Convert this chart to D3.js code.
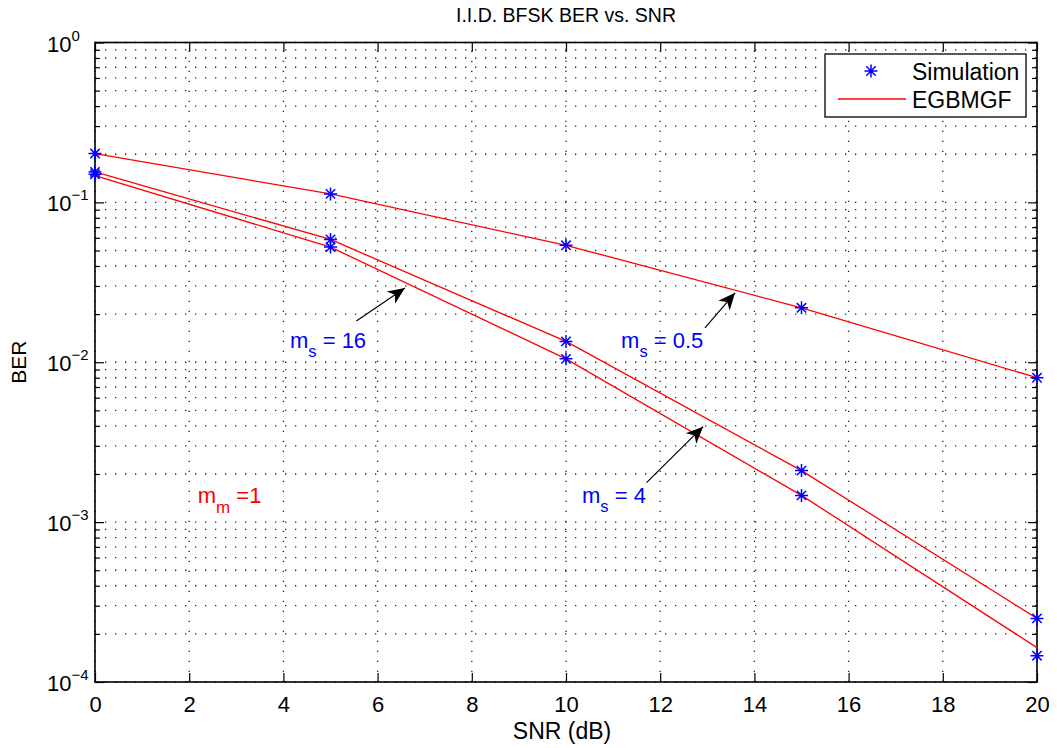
<!DOCTYPE html>
<html>
<head>
<meta charset="utf-8">
<script src="https://cdn.jsdelivr.net/npm/d3@7"></script>
<style>
  html, body { margin: 0; padding: 0; background: #fff; }
  svg { display: block; font-family: "Liberation Sans", Arial, sans-serif; }
</style>
</head>
<body>
<svg id="chart" width="1057" height="748"></svg>
<script>
// SNR points (dB)
const snr = [0, 5, 10, 15, 20];

// Simulated BER for each shadowing parameter m_s (m_m = 1)
const simMs05 = [0.202, 0.113, 0.0539, 0.0219, 0.0080];
const simMs4  = [0.155, 0.0586, 0.0135, 0.00210, 0.000250];
const simMs16 = [0.150, 0.0525, 0.0105, 0.00147, 0.000146];

// Analytical BER (EGBMGF)
const theoryMs05 = [0.202, 0.113, 0.0539, 0.0219, 0.0080];
const theoryMs4  = [0.155, 0.0586, 0.0135, 0.00210, 0.000250];
const theoryMs16 = [0.147, 0.0525, 0.0105, 0.00147, 0.000164];

const xTicks = [0, 2, 4, 6, 8, 10, 12, 14, 16, 18, 20];
const yDecades = [-4, -3, -2, -1, 0];

// Callout labels: text anchor and arrow (tail -> head) in data units
const calloutLabels = ["16", "0.5", "4"];
const calloutText = [[4.14, 0.01233], [11.17, 0.01233], [10.34, 0.001324]];
const calloutTail = [[5.55, 0.0181], [12.95, 0.01643], [11.71, 0.001766]];
const calloutHead = [[6.58, 0.0291], [13.59, 0.02718], [12.91, 0.003953]];

const svg = d3.select("#chart");
const mLeft = 95, mRight = 1037, mTop = 42.5, mBottom = 682;

const x = d3.scaleLinear().domain([0, 20]).range([mLeft, mRight]);
const y = d3.scaleLog().domain([1e-4, 1]).range([mBottom, mTop]);

const FS = 22;

// ---- grid ----
const grid = svg.append("g").attr("stroke", "#222").attr("stroke-width", 1.3)
  .attr("stroke-dasharray", "1.3,8.7").attr("fill", "none");
const yGridVals = [];
yDecades.forEach(d => {
  if (d < 0) for (let k = 1; k <= 9; k++) yGridVals.push(k * Math.pow(10, d));
});
yGridVals.push(1);
yGridVals.forEach(v => {
  grid.append("line").attr("x1", mLeft).attr("x2", mRight)
    .attr("y1", y(v)).attr("y2", y(v));
});
xTicks.forEach(v => {
  grid.append("line").attr("x1", x(v)).attr("x2", x(v))
    .attr("y1", mBottom).attr("y2", mTop);
});

// ---- axes ----
const axisG = svg.append("g");
const axBottom = d3.axisBottom(x).tickValues(xTicks).tickSize(-9).tickPadding(14)
  .tickFormat(d3.format("d"));
const axTop = d3.axisTop(x).tickValues(xTicks).tickSize(-9).tickFormat("");
const axLeft = d3.axisLeft(y).tickValues(yDecades.map(d => Math.pow(10, d)))
  .tickSize(-9).tickFormat("");
const axRight = d3.axisRight(y).tickValues(yDecades.map(d => Math.pow(10, d)))
  .tickSize(-9).tickFormat("");

const gB = axisG.append("g").attr("transform", `translate(0,${mBottom})`).call(axBottom);
const gT = axisG.append("g").attr("transform", `translate(0,${mTop})`).call(axTop);
const gL = axisG.append("g").attr("transform", `translate(${mLeft},0)`).call(axLeft);
const gR = axisG.append("g").attr("transform", `translate(${mRight},0)`).call(axRight);
[gB, gT, gL, gR].forEach(g => {
  g.select(".domain").remove();
  g.selectAll("line").attr("stroke", "#000").attr("stroke-width", 1.2);
});
gB.selectAll("text").attr("font-size", FS).attr("fill", "#000")
  .attr("font-family", "Liberation Sans, Arial, sans-serif");

// minor y ticks
const minorVals = yGridVals.filter(v => Math.abs(Math.log10(v) - Math.round(Math.log10(v))) > 1e-9);
const gMinorL = axisG.append("g").attr("transform", `translate(${mLeft},0)`)
  .call(d3.axisLeft(y).tickValues(minorVals).tickSize(-5).tickFormat(""));
const gMinorR = axisG.append("g").attr("transform", `translate(${mRight},0)`)
  .call(d3.axisRight(y).tickValues(minorVals).tickSize(-5).tickFormat(""));
[gMinorL, gMinorR].forEach(g => {
  g.select(".domain").remove();
  g.selectAll("line").attr("stroke", "#000").attr("stroke-width", 1.2);
});

// y tick labels as 10^n
yDecades.forEach(d => {
  const t = svg.append("text").attr("x", mLeft - 48).attr("y", y(Math.pow(10, d)) + 9)
    .attr("font-size", FS).attr("fill", "#000");
  t.append("tspan").text("10");
  t.append("tspan").attr("dy", -11).attr("font-size", 15)
    .text(d === 0 ? "0" : "\u2212" + Math.abs(d));
});

// box
svg.append("rect").attr("x", mLeft).attr("y", mTop)
  .attr("width", mRight - mLeft).attr("height", mBottom - mTop)
  .attr("fill", "none").attr("stroke", "#000").attr("stroke-width", 1.6);

// ---- titles ----
svg.append("text").attr("x", (mLeft + mRight) / 2).attr("y", 22)
  .attr("text-anchor", "middle").attr("font-size", 19.5).text("I.I.D. BFSK BER vs. SNR");
svg.append("text").attr("x", 562).attr("y", 739)
  .attr("text-anchor", "middle").attr("font-size", 23).text("SNR (dB)");
svg.append("text").attr("transform", `translate(26,${(mTop + mBottom) / 2}) rotate(-90)`)
  .attr("text-anchor", "middle").attr("font-size", 21).text("BER");

// ---- curves ----
const line = d3.line().x((d, i) => x(snr[i])).y(d => y(d));
const plotG = svg.append("g");
[theoryMs05, theoryMs4, theoryMs16].forEach(s => {
  plotG.append("path").attr("d", line(s)).attr("fill", "none")
    .attr("stroke", "#ff0000").attr("stroke-width", 1.3);
});

function asterisk(g, cx, cy, r) {
  const d = r * 0.72;
  g.append("path")
    .attr("d", `M${cx - r},${cy}L${cx + r},${cy}M${cx},${cy - r}L${cx},${cy + r}` +
      `M${cx - d},${cy - d}L${cx + d},${cy + d}M${cx - d},${cy + d}L${cx + d},${cy - d}`)
    .attr("stroke", "#0000ff").attr("stroke-width", 1.5).attr("fill", "none");
}
[simMs05, simMs4, simMs16].forEach(s => {
  s.forEach((v, i) => asterisk(plotG, x(snr[i]), y(v), 6.5));
});

// ---- callouts ----
const annG = svg.append("g");
function arrow(x1, y1, x2, y2) {
  annG.append("line").attr("x1", x1).attr("y1", y1).attr("x2", x2).attr("y2", y2)
    .attr("stroke", "#000").attr("stroke-width", 1.2);
  const ang = Math.atan2(y2 - y1, x2 - x1);
  const L = 17, W = 7.5, back = 12;
  const ux = Math.cos(ang), uy = Math.sin(ang);
  const px = -uy, py = ux;
  const bx = x2 - ux * L, by = y2 - uy * L;
  const ix = x2 - ux * back, iy = y2 - uy * back;
  annG.append("path")
    .attr("d", `M${x2},${y2}L${bx + px * W},${by + py * W}L${ix},${iy}L${bx - px * W},${by - py * W}Z`)
    .attr("fill", "#000");
}
calloutLabels.forEach((lab, i) => {
  const t = annG.append("text").attr("x", x(calloutText[i][0])).attr("y", y(calloutText[i][1]))
    .attr("font-size", 22).attr("fill", "#0000ff");
  t.append("tspan").text("m");
  t.append("tspan").attr("dy", 9).attr("font-size", 16.5).text("s");
  t.append("tspan").attr("dy", -9).text(" = " + lab);
  arrow(x(calloutTail[i][0]), y(calloutTail[i][1]), x(calloutHead[i][0]), y(calloutHead[i][1]));
});

// fading parameter label
const mm = annG.append("text").attr("x", x(2.18)).attr("y", y(0.001324))
  .attr("font-size", 22).attr("fill", "#ff0000");
mm.append("tspan").text("m");
mm.append("tspan").attr("dy", 10).attr("font-size", 17).text("m");
mm.append("tspan").attr("dy", -10).text(" =1");

// ---- legend ----
const lg = svg.append("g");
lg.append("rect").attr("x", 825).attr("y", 54).attr("width", 201).attr("height", 63)
  .attr("fill", "#fff").attr("stroke", "#000").attr("stroke-width", 1.3);
asterisk(lg, 871, 71, 6.5);
lg.append("line").attr("x1", 838).attr("x2", 906).attr("y1", 99).attr("y2", 99)
  .attr("stroke", "#ff0000").attr("stroke-width", 1.3);
lg.append("text").attr("x", 912).attr("y", 80).attr("font-size", 23).text("Simulation");
lg.append("text").attr("x", 912).attr("y", 108).attr("font-size", 23).text("EGBMGF");
</script>
</body>
</html>
